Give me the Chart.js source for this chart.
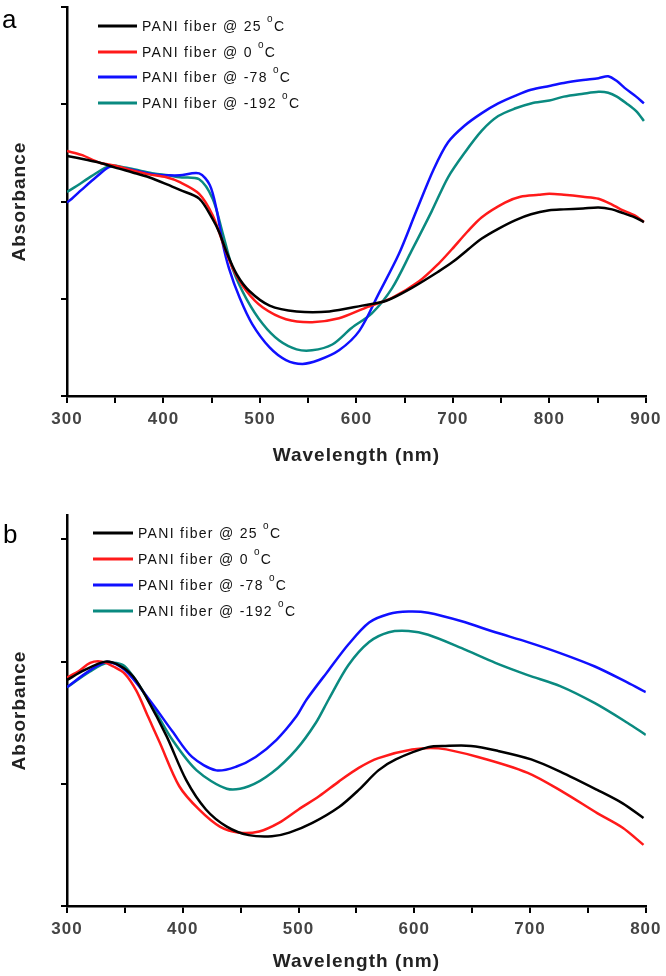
<!DOCTYPE html>
<html>
<head>
<meta charset="utf-8">
<script src="https://cdn.jsdelivr.net/npm/chart.js@4.4.1/dist/chart.umd.min.js"></script>
<style>
  html, body { margin: 0; padding: 0; background: #fff; }
  body { width: 666px; height: 976px; position: relative; overflow: hidden; }
  .panel { position: absolute; left: 0; width: 666px; }
  #wrapA { top: 0; height: 470px; }
  #wrapB { top: 490px; height: 486px; }
</style>
</head>
<body>
<div class="panel" id="wrapA"><canvas id="chartA" width="666" height="470"></canvas></div>
<div class="panel" id="wrapB"><canvas id="chartB" width="666" height="486"></canvas></div>
<script>
// series labels and colours
const seriesLabels = ['PANI fiber @ 25 °C', 'PANI fiber @ 0 °C', 'PANI fiber @ -78 °C', 'PANI fiber @ -192 °C']
const seriesColors = ['#000000', '#ff1a1a', '#1010ff', '#0a8a80']

// panel a (wavelength nm / absorbance, arbitrary units)
const aNm25 = [300,320,334,350,368,385,403,417,437,451,458,465,476,489,510,538,572,606,631,657,685,700,716,730,747,765,781,800,815,835,851,865,874,888,898]
const aAbs25 = [2.47,2.43,2.40,2.35,2.30,2.25,2.18,2.12,2.03,1.82,1.68,1.49,1.25,1.08,0.93,0.87,0.87,0.93,0.98,1.11,1.28,1.38,1.51,1.62,1.72,1.81,1.87,1.91,1.92,1.93,1.94,1.92,1.89,1.84,1.79]

const aNm0 = [300,315,334,350,368,385,403,417,437,451,461,472,486,503,527,554,582,610,637,665,685,699,715,730,754,770,789,800,815,835,851,865,874,888,898]
const aAbs0 = [2.52,2.48,2.40,2.37,2.32,2.28,2.25,2.20,2.08,1.86,1.59,1.31,1.08,0.91,0.79,0.76,0.80,0.91,1.01,1.18,1.36,1.51,1.69,1.84,1.99,2.05,2.07,2.08,2.07,2.05,2.03,1.97,1.92,1.86,1.79]

const aNm78 = [300,305,315,330,345,360,375,390,405,417,437,448,455,461,468,479,492,510,527,544,561,582,603,623,644,662,680,695,712,730,747,765,781,800,815,835,851,861,870,878,890,898]
const aAbs78 = [1.99,2.03,2.12,2.25,2.36,2.34,2.31,2.28,2.27,2.27,2.29,2.17,1.92,1.59,1.31,1.01,0.74,0.50,0.37,0.33,0.37,0.47,0.67,1.05,1.46,1.90,2.33,2.61,2.78,2.91,3.01,3.09,3.15,3.19,3.22,3.25,3.27,3.29,3.24,3.17,3.08,3.01]

const aNm192 = [300,310,325,345,360,375,390,405,417,437,451,461,472,486,503,520,538,554,575,595,616,637,657,678,695,712,730,747,765,781,800,815,835,851,861,870,880,890,898]
const aAbs192 = [2.10,2.16,2.26,2.37,2.35,2.32,2.29,2.27,2.25,2.23,2.03,1.69,1.30,1.00,0.74,0.57,0.48,0.47,0.53,0.70,0.85,1.11,1.49,1.90,2.25,2.50,2.73,2.88,2.96,3.01,3.04,3.08,3.11,3.13,3.12,3.08,3.01,2.93,2.83]

// panel b
const bNm25 = [300,315,333,345,357,369,386,403,420,438,457,477,492,512,535,552,569,584,612,627,649,672,701,726,758,780,798]
const bAbs25 = [1.85,1.93,2.00,1.97,1.88,1.70,1.39,1.03,0.79,0.65,0.58,0.57,0.60,0.68,0.81,0.95,1.11,1.20,1.30,1.31,1.31,1.27,1.20,1.10,0.95,0.84,0.72]

const bNm0 = [300,310,320,330,340,350,360,370,380,397,414,432,449,466,483,500,518,535,552,569,598,621,655,698,729,758,780,798]
const bAbs0 = [1.87,1.92,1.99,2.00,1.96,1.90,1.76,1.55,1.34,0.98,0.79,0.65,0.60,0.61,0.68,0.79,0.90,1.02,1.13,1.21,1.28,1.29,1.22,1.09,0.93,0.76,0.64,0.50]

const bNm78 = [300,320,335,350,371,391,408,429,446,463,481,498,507,526,543,561,578,595,612,641,670,698,726,756,784,800]
const bAbs78 = [1.79,1.93,2.00,1.93,1.69,1.43,1.22,1.11,1.14,1.22,1.36,1.55,1.69,1.93,2.14,2.32,2.39,2.41,2.40,2.33,2.24,2.16,2.07,1.96,1.83,1.75]

const bNm192 = [300,320,335,350,374,391,412,438,457,477,498,515,526,543,561,578,595,612,641,670,698,726,756,784,800]
const bAbs192 = [1.79,1.92,1.99,1.96,1.63,1.36,1.11,0.96,0.98,1.09,1.28,1.50,1.69,1.97,2.16,2.24,2.25,2.22,2.11,1.99,1.89,1.80,1.66,1.50,1.40]

const FONT = '"Liberation Sans", Arial, sans-serif'
Chart.defaults.font.family = FONT

const toPoints = (xs, ys) => xs.map((x, i) => ({ x: x, y: ys[i] }))

// draws the panel letter and the in-plot legend
const panelDecor = {
  id: 'panelDecor',
  beforeDraw(chart) {
    chart.ctx.letterSpacing = '1px'
  },
  afterDraw(chart, args, opts) {
    const ctx = chart.ctx
    ctx.save()
    ctx.fillStyle = '#000'
    ctx.letterSpacing = '0px'
    ctx.font = '26px ' + FONT
    ctx.textBaseline = 'alphabetic'
    ctx.fillText(opts.letter, opts.letterX, opts.letterY)

    ctx.letterSpacing = '1.3px'
    chart.data.datasets.forEach((ds, i) => {
      const y = opts.rowY[i]
      ctx.strokeStyle = ds.borderColor
      ctx.lineWidth = 3
      ctx.beginPath()
      ctx.moveTo(opts.lineX0, y)
      ctx.lineTo(opts.lineX1, y)
      ctx.stroke()

      const parts = ds.label.split('°')
      ctx.fillStyle = '#111'
      ctx.textBaseline = 'middle'
      ctx.font = '14px ' + FONT
      let x = opts.textX
      ctx.fillText(parts[0], x, y + 1)
      x += ctx.measureText(parts[0]).width
      ctx.font = '10px ' + FONT
      ctx.fillText('o', x, y - 7)
      x += ctx.measureText('o').width
      ctx.font = '14px ' + FONT
      ctx.fillText(parts[1], x, y + 1)
    })
    ctx.restore()
  }
}

function makePanel(canvasId, series, xMax, yMax, padTop, xAxisHeight, decor) {
  return new Chart(document.getElementById(canvasId), {
    type: 'line',
    data: {
      datasets: series.map((s, i) => ({
        label: seriesLabels[i],
        data: toPoints(s[0], s[1]),
        borderColor: seriesColors[i],
        borderWidth: 2.5,
        pointRadius: 0,
        tension: 0.3,
        fill: false
      }))
    },
    options: {
      responsive: false,
      animation: false,
      layout: { padding: { top: padTop, right: 18, left: 0, bottom: 0 } },
      plugins: {
        legend: { display: false },
        tooltip: { enabled: false },
        panelDecor: decor
      },
      scales: {
        x: {
          type: 'linear',
          min: 300,
          max: xMax,
          border: { display: true, color: '#000', width: 2.5 },
          grid: { drawOnChartArea: false, drawTicks: true, tickLength: 7, color: '#000', lineWidth: 2 },
          ticks: {
            stepSize: 50,
            includeBounds: false,
            maxRotation: 0,
            autoSkip: false,
            padding: 6,
            color: '#444',
            font: { size: 17, weight: 'bold' },
            callback: (v) => (v % 100 === 0 ? String(v) : '')
          },
          title: {
            display: true,
            text: 'Wavelength (nm)',
            color: '#222',
            font: { size: 19, weight: 'bold' },
            padding: { top: 0, bottom: 3 }
          },
          afterFit(scale) { scale.height = xAxisHeight }
        },
        y: {
          min: 0,
          max: yMax,
          border: { display: true, color: '#000', width: 2.5 },
          grid: { drawOnChartArea: false, drawTicks: true, tickLength: 6, color: '#000', lineWidth: 2 },
          ticks: { stepSize: 1, includeBounds: false, padding: 0, callback: () => '' },
          title: {
            display: true,
            text: 'Absorbance',
            color: '#222',
            font: { size: 19, weight: 'bold' },
            padding: { top: 8, bottom: 0 }
          },
          afterFit(scale) { scale.width = 67 }
        }
      }
    },
    plugins: [panelDecor]
  })
}

makePanel('chartA',
  [[aNm25, aAbs25], [aNm0, aAbs0], [aNm78, aAbs78], [aNm192, aAbs192]],
  900, 4, 3, 74,
  { letter: 'a', letterX: 2, letterY: 28, lineX0: 98, lineX1: 137, textX: 142, rowY: [26, 52, 77, 103] })

makePanel('chartB',
  [[bNm25, bAbs25], [bNm0, bAbs0], [bNm78, bAbs78], [bNm192, bAbs192]],
  800, 3.2, 25, 70,
  { letter: 'b', letterX: 3, letterY: 53, lineX0: 93, lineX1: 133, textX: 138, rowY: [43, 69, 95, 121] })
</script>
</body>
</html>
